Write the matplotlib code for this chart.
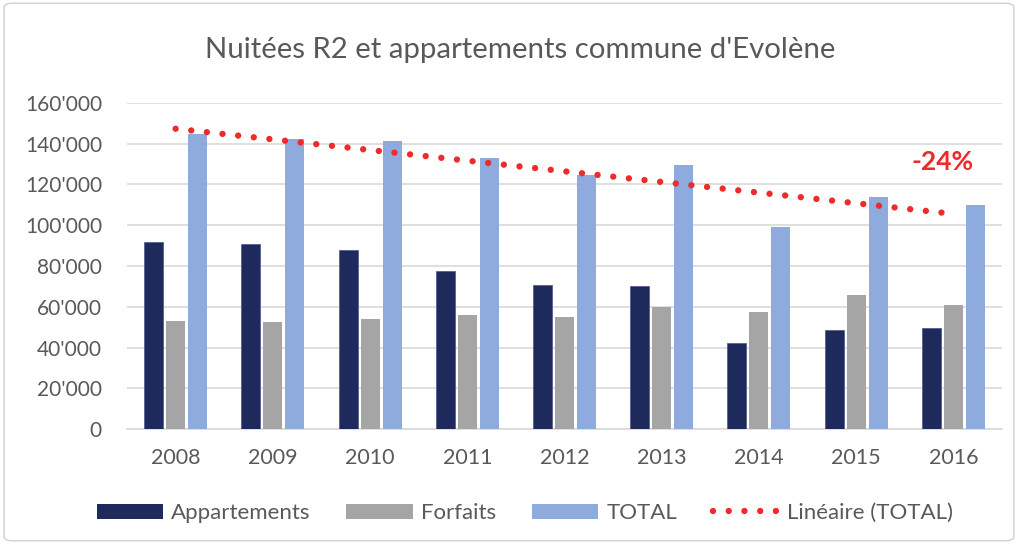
import numpy as np
import matplotlib
matplotlib.use("Agg")
import matplotlib.pyplot as plt
from matplotlib.patches import FancyBboxPatch, Patch
from matplotlib.lines import Line2D

plt.rcParams['font.family'] = ['Lato', 'DejaVu Sans']

years = ['2008', '2009', '2010', '2011', '2012', '2013', '2014', '2015', '2016']
appartements = [91800, 90700, 87700, 77400, 70500, 70000, 42000, 48600, 49400]
forfaits = [53000, 52400, 53800, 56000, 55000, 59700, 57400, 65600, 60700]
total = [144800, 142300, 141350, 133000, 124700, 129400, 99000, 113900, 109800]
yticks = [0, 20000, 40000, 60000, 80000, 100000, 120000, 140000, 160000]
ytick_labels = ["0", "20'000", "40'000", "60'000", "80'000", "100'000", "120'000", "140'000", "160'000"]
title = "Nuitées R2 et appartements commune d'Evolène"
annot = "-24%"

c_app = '#1F2A5C'
c_for = '#A5A5A5'
c_tot = '#8FAADC'
c_red = '#EE2A2A'
c_txt = '#595959'
c_grid = '#D9D9D9'

fig = plt.figure(figsize=(10.18, 5.44), dpi=100)
fig.patch.set_facecolor('white')
border = FancyBboxPatch((0.004, 0.006), 0.992, 0.988, boxstyle="round,pad=0,rounding_size=0.008",
                        transform=fig.transFigure, facecolor='none', edgecolor='#D0D0D0', linewidth=1,
                        zorder=10)
fig.patches.append(border)

ax = fig.add_axes([127/1018, 1-429/544, (1002-127)/1018, (429-103)/544])
x = np.arange(len(years))
w = 0.195
step = 0.226
ax.bar(x - step, appartements, w, color=c_app, edgecolor='#4A5688', linewidth=0.5, zorder=3)
ax.bar(x, forfaits, w, color=c_for, zorder=3)
ax.bar(x + step, total, w, color=c_tot, zorder=3)

dots = (0, (0.001, 2.46))
coef = np.polyfit(x, total, 1)
xt = np.array([x[0], x[-1]], dtype=float)
ax.plot(xt, np.polyval(coef, xt), color=c_red, linewidth=4.6,
        linestyle=dots, dash_capstyle='round', zorder=4)

ax.set_xlim(-0.5, len(years) - 0.5)
ax.set_ylim(0, 160000)
ax.set_yticks(yticks)
ax.set_yticklabels(ytick_labels, color=c_txt, fontsize=15)
ax.set_xticks(x)
ax.set_xticklabels(years, color=c_txt, fontsize=15.5)
ax.tick_params(axis='both', length=0)
ax.tick_params(axis='y', pad=18)
ax.tick_params(axis='x', pad=14)
for s in ['top', 'right', 'left']:
    ax.spines[s].set_visible(False)
ax.spines['bottom'].set_color(c_grid)
ax.spines['bottom'].set_linewidth(1.2)
ax.yaxis.grid(True, color=c_grid, linewidth=1.2, zorder=0)
ax.set_axisbelow(True)

ax.text(7.885, 131200, annot, color=c_red, fontsize=19, fontweight='bold', ha='center', va='center')

fig.text(520/1018, 1-50/544, title, ha='center', va='center', fontsize=21.2, color=c_txt)

handles = [Patch(facecolor=c_app), Patch(facecolor=c_for), Patch(facecolor=c_tot),
           Line2D([0], [0], color=c_red, linewidth=4.6, linestyle=dots, dash_capstyle='round')]
labels = ['Appartements', 'Forfaits', 'TOTAL', 'Linéaire (TOTAL)']
leg = fig.legend(handles, labels, loc='center', bbox_to_anchor=(525/1018, 1-513/544), ncol=4,
                 frameon=False, fontsize=16, handlelength=3.0, handleheight=0.65,
                 columnspacing=1.6, handletextpad=0.36)
for t in leg.get_texts():
    t.set_color(c_txt)

fig.savefig('out.png', dpi=100)
